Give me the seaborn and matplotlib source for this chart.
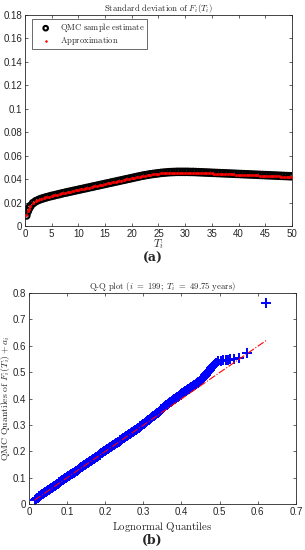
import matplotlib
matplotlib.use("Agg")
import matplotlib.pyplot as plt
import seaborn as sns
import pandas as pd

# ---- data: panel (a) ----
T_i = [0.25, 0.5, 0.75, 1.0, 1.5, 2.0, 2.5, 3.0, 3.5, 4.0, 4.5, 5.0, 5.5, 6.0, 6.5, 7.0, 7.5,
       8.0, 8.5, 9.0, 9.5, 10.0, 10.5, 11.0, 11.5, 12.0, 12.5, 13.0, 13.5, 14.0, 14.5, 15.0,
       15.5, 16.0, 16.5, 17.0, 17.5, 18.0, 18.5, 19.0, 19.5, 20.0, 20.5, 21.0, 21.5, 22.0,
       22.5, 23.0, 23.5, 24.0, 24.5, 25.0, 25.5, 26.0, 26.5, 27.0, 27.5, 28.0, 28.5, 29.0,
       29.5, 30.0, 30.5, 31.0, 31.5, 32.0, 32.5, 33.0, 33.5, 34.0, 34.5, 35.0, 35.5, 36.0,
       36.5, 37.0, 37.5, 38.0, 38.5, 39.0, 39.5, 40.0, 40.5, 41.0, 41.5, 42.0, 42.5, 43.0,
       43.5, 44.0, 44.5, 45.0, 45.5, 46.0, 46.5, 47.0, 47.5, 48.0, 48.5, 49.0, 49.5, 50.0]
qmc_std = [0.0090, 0.0125, 0.0150, 0.0170, 0.0195, 0.0211, 0.0222, 0.0231, 0.0238, 0.0245,
           0.0251, 0.0257, 0.0262, 0.0268, 0.0273, 0.0279, 0.0284, 0.0289, 0.0294, 0.0299,
           0.0304, 0.0309, 0.0314, 0.0319, 0.0324, 0.0329, 0.0334, 0.0339, 0.0344, 0.0349,
           0.0354, 0.0359, 0.0364, 0.0369, 0.0374, 0.0379, 0.0384, 0.0389, 0.0394, 0.0399,
           0.0404, 0.0409, 0.0414, 0.0419, 0.0424, 0.0429, 0.0433, 0.0437, 0.0441, 0.0444,
           0.0447, 0.0450, 0.0453, 0.0455, 0.0457, 0.0459, 0.0460, 0.0461, 0.0462, 0.0462,
           0.0462, 0.0462, 0.0462, 0.0461, 0.0461, 0.0460, 0.0459, 0.0458, 0.0457, 0.0456,
           0.0455, 0.0454, 0.0453, 0.0452, 0.0451, 0.0450, 0.0449, 0.0448, 0.0447, 0.0446,
           0.0445, 0.0444, 0.0443, 0.0442, 0.0441, 0.0440, 0.0439, 0.0438, 0.0437, 0.0436,
           0.0435, 0.0434, 0.0433, 0.0432, 0.0431, 0.0430, 0.0429, 0.0428, 0.0427, 0.0426,
           0.0425, 0.0424]
approx_std = [0.0090, 0.0125, 0.0149, 0.0169, 0.0194, 0.0210, 0.0221, 0.0230, 0.0237, 0.0244,
              0.0250, 0.0256, 0.0261, 0.0267, 0.0272, 0.0278, 0.0283, 0.0288, 0.0293, 0.0298,
              0.0303, 0.0308, 0.0313, 0.0318, 0.0323, 0.0328, 0.0333, 0.0338, 0.0343, 0.0348,
              0.0353, 0.0358, 0.0363, 0.0368, 0.0373, 0.0378, 0.0383, 0.0388, 0.0393, 0.0398,
              0.0403, 0.0407, 0.0412, 0.0417, 0.0422, 0.0426, 0.0430, 0.0434, 0.0437, 0.0440,
              0.0443, 0.0446, 0.0448, 0.0450, 0.0452, 0.0453, 0.0454, 0.0455, 0.0456, 0.0456,
              0.0456, 0.0456, 0.0456, 0.0455, 0.0455, 0.0454, 0.0453, 0.0452, 0.0451, 0.0450,
              0.0449, 0.0448, 0.0447, 0.0446, 0.0445, 0.0444, 0.0443, 0.0442, 0.0441, 0.0440,
              0.0439, 0.0438, 0.0437, 0.0436, 0.0435, 0.0434, 0.0433, 0.0432, 0.0431, 0.0430,
              0.0429, 0.0428, 0.0427, 0.0426, 0.0425, 0.0424, 0.0423, 0.0422, 0.0421, 0.0420,
              0.0419, 0.0418]

# ---- data: panel (b) ----
lognormal_q = [
    0.0150, 0.0175, 0.0200, 0.0225, 0.0250, 0.0275, 0.0300, 0.0325, 0.0350, 0.0375,
    0.0400, 0.0425, 0.0450, 0.0475, 0.0500, 0.0525, 0.0550, 0.0575, 0.0600, 0.0625,
    0.0650, 0.0675, 0.0700, 0.0725, 0.0750, 0.0775, 0.0800, 0.0825, 0.0850, 0.0875,
    0.0900, 0.0925, 0.0950, 0.0975, 0.1000, 0.1025, 0.1050, 0.1075, 0.1100, 0.1125,
    0.1150, 0.1175, 0.1200, 0.1225, 0.1250, 0.1275, 0.1300, 0.1325, 0.1350, 0.1375,
    0.1400, 0.1425, 0.1450, 0.1475, 0.1500, 0.1525, 0.1550, 0.1575, 0.1600, 0.1625,
    0.1650, 0.1675, 0.1700, 0.1725, 0.1750, 0.1775, 0.1800, 0.1825, 0.1850, 0.1875,
    0.1900, 0.1925, 0.1950, 0.1975, 0.2000, 0.2025, 0.2050, 0.2075, 0.2100, 0.2125,
    0.2150, 0.2175, 0.2200, 0.2225, 0.2250, 0.2275, 0.2300, 0.2325, 0.2350, 0.2375,
    0.2400, 0.2425, 0.2450, 0.2475, 0.2500, 0.2525, 0.2550, 0.2575, 0.2600, 0.2625,
    0.2650, 0.2675, 0.2700, 0.2725, 0.2750, 0.2775, 0.2800, 0.2825, 0.2850, 0.2875,
    0.2900, 0.2925, 0.2950, 0.2975, 0.3000, 0.3025, 0.3050, 0.3075, 0.3100, 0.3125,
    0.3150, 0.3175, 0.3200, 0.3225, 0.3250, 0.3275, 0.3300, 0.3325, 0.3350, 0.3375,
    0.3400, 0.3425, 0.3450, 0.3475, 0.3500, 0.3525, 0.3550, 0.3575, 0.3600, 0.3625,
    0.3650, 0.3675, 0.3700, 0.3725, 0.3750, 0.3775, 0.3800, 0.3825, 0.3850, 0.3875,
    0.3900, 0.3925, 0.3950, 0.3975, 0.4000, 0.4025, 0.4050, 0.4075, 0.4100, 0.4125,
    0.4150, 0.4175, 0.4200, 0.4225, 0.4250, 0.4275, 0.4300, 0.4325, 0.4350, 0.4375,
    0.4400, 0.4425, 0.4450, 0.4475, 0.4500, 0.4525, 0.4550, 0.4575, 0.4600, 0.4625,
    0.4650, 0.4675, 0.4700, 0.4725, 0.4750, 0.4775, 0.4800, 0.4825, 0.4850, 0.4875,
    0.4900, 0.4960, 0.5030, 0.5090, 0.5160, 0.5220, 0.5270, 0.5380, 0.5510, 0.5730,
    0.6230]
qmc_q = [
    0.0170, 0.0195, 0.0220, 0.0245, 0.0270, 0.0295, 0.0320, 0.0345, 0.0370, 0.0395,
    0.0420, 0.0445, 0.0470, 0.0495, 0.0520, 0.0545, 0.0570, 0.0595, 0.0620, 0.0645,
    0.0670, 0.0695, 0.0720, 0.0745, 0.0770, 0.0795, 0.0820, 0.0845, 0.0870, 0.0895,
    0.0920, 0.0945, 0.0970, 0.0995, 0.1020, 0.1045, 0.1070, 0.1095, 0.1120, 0.1145,
    0.1170, 0.1195, 0.1220, 0.1245, 0.1270, 0.1295, 0.1320, 0.1345, 0.1370, 0.1395,
    0.1420, 0.1445, 0.1470, 0.1495, 0.1520, 0.1545, 0.1570, 0.1595, 0.1620, 0.1645,
    0.1670, 0.1695, 0.1720, 0.1745, 0.1770, 0.1795, 0.1820, 0.1845, 0.1870, 0.1895,
    0.1920, 0.1945, 0.1970, 0.1995, 0.2020, 0.2045, 0.2070, 0.2095, 0.2120, 0.2145,
    0.2170, 0.2195, 0.2220, 0.2245, 0.2270, 0.2295, 0.2320, 0.2345, 0.2370, 0.2395,
    0.2420, 0.2445, 0.2470, 0.2495, 0.2520, 0.2545, 0.2570, 0.2595, 0.2620, 0.2645,
    0.2670, 0.2695, 0.2720, 0.2745, 0.2770, 0.2795, 0.2820, 0.2845, 0.2870, 0.2895,
    0.2920, 0.2945, 0.2970, 0.2995, 0.3020, 0.3050, 0.3080, 0.3110, 0.3140, 0.3170,
    0.3200, 0.3230, 0.3260, 0.3290, 0.3320, 0.3350, 0.3380, 0.3410, 0.3440, 0.3470,
    0.3500, 0.3530, 0.3560, 0.3590, 0.3620, 0.3650, 0.3680, 0.3710, 0.3740, 0.3770,
    0.3800, 0.3830, 0.3860, 0.3885, 0.3910, 0.3940, 0.3970, 0.3995, 0.4020, 0.4045,
    0.4070, 0.4095, 0.4120, 0.4145, 0.4170, 0.4195, 0.4220, 0.4245, 0.4270, 0.4295,
    0.4320, 0.4345, 0.4370, 0.4395, 0.4420, 0.4445, 0.4470, 0.4495, 0.4520, 0.4545,
    0.4570, 0.4600, 0.4630, 0.4660, 0.4690, 0.4725, 0.4760, 0.4795, 0.4830, 0.4870,
    0.4910, 0.4955, 0.5000, 0.5050, 0.5100, 0.5150, 0.5200, 0.5245, 0.5290, 0.5325,
    0.5360, 0.5410, 0.5430, 0.5450, 0.5460, 0.5470, 0.5480, 0.5510, 0.5540, 0.5740,
    0.7630]
ref_x = [0.015, 0.623]
ref_y = [0.015, 0.621]

x_ticks_a = [0, 5, 10, 15, 20, 25, 30, 35, 40, 45, 50]
y_ticks_a = [0, 0.02, 0.04, 0.06, 0.08, 0.1, 0.12, 0.14, 0.16, 0.18]
y_ticklabels_a = ["0", "0.02", "0.04", "0.06", "0.08", "0.1", "0.12", "0.14", "0.16", "0.18"]
x_ticks_b = [0, 0.1, 0.2, 0.3, 0.4, 0.5, 0.6, 0.7]
x_ticklabels_b = ["0", "0.1", "0.2", "0.3", "0.4", "0.5", "0.6", "0.7"]
y_ticks_b = [0, 0.1, 0.2, 0.3, 0.4, 0.5, 0.6, 0.7, 0.8]
y_ticklabels_b = ["0", "0.1", "0.2", "0.3", "0.4", "0.5", "0.6", "0.7", "0.8"]

sns.set_theme(style="white")
plt.rcParams["font.family"] = ["Liberation Sans", "DejaVu Sans"]
plt.rcParams["mathtext.fontset"] = "cm"

df_a = pd.DataFrame({"T": T_i, "qmc": qmc_std, "approx": approx_std})
df_b = pd.DataFrame({"x": lognormal_q, "y": qmc_q})
df_ref = pd.DataFrame({"x": ref_x, "y": ref_y})

fig = plt.figure(figsize=(3.05, 5.5), dpi=100)
ax1 = fig.add_axes([0.082, 0.589, 0.875, 0.384])
ax2 = fig.add_axes([0.095, 0.0836, 0.875, 0.3836])

edge = "#262626"
tick_fs = 7

def style(ax):
    for s in ax.spines.values():
        s.set_color(edge)
        s.set_linewidth(0.6)
    ax.tick_params(direction="in", length=2.5, width=0.5, color=edge,
                   labelsize=tick_fs, labelcolor=edge, top=True, right=True,
                   bottom=True, left=True, pad=2)

# panel (a)
sns.scatterplot(data=df_a, x="T", y="qmc", ax=ax1, marker="o", s=22,
                facecolor="none", edgecolor="black", linewidth=1.5,
                label=r"$\mathrm{QMC\ sample\ estimate}$", zorder=2)
sns.scatterplot(data=df_a, x="T", y="approx", ax=ax1, marker="o", s=3,
                color="red", edgecolor="red", linewidth=0.5,
                label=r"$\mathrm{Approximation}$", zorder=3)
ax1.set_xlim(0, 50)
ax1.set_ylim(0, 0.18)
ax1.set_xticks(x_ticks_a)
ax1.set_yticks(y_ticks_a)
ax1.set_yticklabels(y_ticklabels_a)
style(ax1)
ax1.set_xlabel(r"$T_i$", fontsize=8, labelpad=-1)
ax1.set_ylabel("")
ax1.set_title(r"$\mathrm{Standard\ deviation\ of\ }F_i(T_i)$", fontsize=6.3, pad=3)
leg = ax1.legend(loc="upper left", bbox_to_anchor=(0.025, 0.981), borderaxespad=0,
                 fontsize=6.2, frameon=True, fancybox=False, edgecolor=edge,
                 borderpad=0.3, labelspacing=0.05, handletextpad=0.3,
                 handlelength=2.65, markerscale=0.7)
leg.get_frame().set_linewidth(0.6)

# panel (b)
sns.scatterplot(data=df_b, x="x", y="y", ax=ax2, marker="+", s=48,
                color="blue", linewidth=1.4, zorder=2)
sns.lineplot(data=df_ref, x="x", y="y", ax=ax2, color="red", linestyle="-.",
             linewidth=0.8, zorder=3)
ax2.set_xlim(0, 0.7)
ax2.set_ylim(0, 0.8)
ax2.set_xticks(x_ticks_b)
ax2.set_xticklabels(x_ticklabels_b)
ax2.set_yticks(y_ticks_b)
ax2.set_yticklabels(y_ticklabels_b)
style(ax2)
ax2.set_xlabel(r"$\mathrm{Lognormal\ Quantiles}$", fontsize=7.8, labelpad=2)
ax2.set_ylabel(r"$\mathrm{QMC\ Quantiles\ of\ }F_i(T_i)+a_i$", fontsize=7)
ax2.yaxis.set_label_coords(-0.062, 0.5)
ax2.set_title(r"$\mathrm{Q\text{-}Q\ plot\ (}i\mathrm{\ =\ 199;\ }T_i\mathrm{\ =\ 49.75\ years)}$",
              fontsize=6.3, pad=3)

fig.text(0.5, 1 - 258 / 550, "(a)", ha="center", va="center", fontsize=9,
         fontweight="bold", family="DejaVu Serif")
fig.text(0.5, 1 - 540 / 550, "(b)", ha="center", va="center", fontsize=9,
         fontweight="bold", family="DejaVu Serif")

fig.savefig("out.png", dpi=100)
